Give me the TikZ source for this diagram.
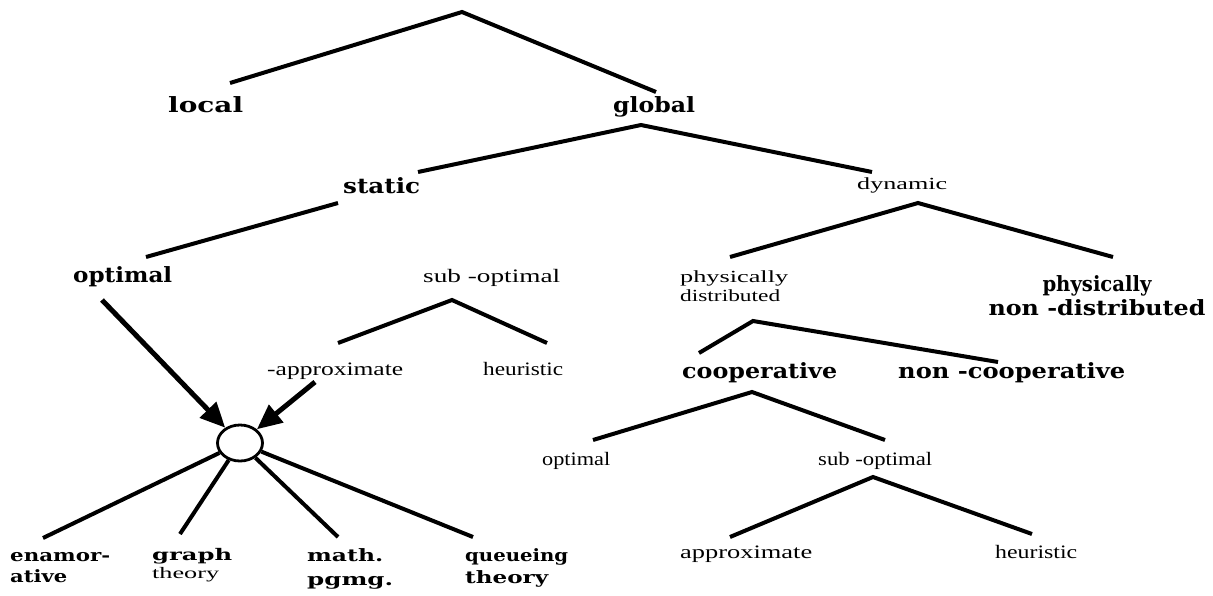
\documentclass[tikz,border=0pt]{standalone}
\usepackage{graphicx}
\usepackage{fontspec}
\setmainfont{Liberation Serif}
\newfontfamily\dvs{DejaVu Serif}
\usetikzlibrary{arrows.meta,shapes.geometric}
\newcommand\sw[2]{\resizebox{#1pt}{\height}{#2}}
\begin{document}
\begin{tikzpicture}[x=1pt,y=-1pt,
  br/.style={line width=4pt, line cap=butt},
  hd/.style={inner sep=0pt, anchor=base west, font=\dvs\bfseries\fontsize{21}{24}\selectfont},
  sm/.style={inner sep=0pt, anchor=base west, font=\dvs\bfseries\fontsize{17}{21}\selectfont},
  rg/.style={inner sep=0pt, anchor=base west, font=\fontsize{19}{22}\selectfont},
  arr/.style={line width=5pt, -{Triangle[length=25pt,width=22pt]}},
]
\useasboundingbox (0,0) rectangle (1213,595);

% labels
\node[hd] (local) at (168,112) {\sw{75}{local}};
\node[hd] (global) at (613,112) {\sw{82}{global}};
\node[hd] (static) at (343,193) {\sw{77}{static}};
\node[rg, font=\fontsize{17}{20}\selectfont] (dynamic) at (857,189) {\sw{90}{dynamic}};
\node[hd] (optA) at (73,282) {\sw{99}{optimal}};
\node[rg] (subA) at (423,282) {\sw{137}{sub -optimal}};
\node[rg] (apxA) at (267,375) {\sw{136}{-approximate}};
\node[rg] (heuA) at (483,375) {\sw{80}{heuristic}};
\node[rg, font=\fontsize{17}{19}\selectfont] (pd) at (680,282)
  {\begin{tabular}[t]{@{}l@{}}\sw{108}{physically}\\\sw{100}{distributed}\end{tabular}};
\node[hd, anchor=base] (pnd) at (1097,291)
  {\begin{tabular}[t]{@{}c@{}}\sw{109}{physically}\\\sw{217}{non -distributed}\end{tabular}};
\node[hd] (coop) at (682,378) {\sw{155}{cooperative}};
\node[hd] (ncoop) at (898,378) {\sw{227}{non -cooperative}};
\node[rg] (optB) at (542,465) {\sw{68}{optimal}};
\node[rg] (subB) at (818,465) {\sw{114}{sub -optimal}};
\node[rg] (apxB) at (680,558) {\sw{132}{approximate}};
\node[rg] (heuB) at (995,558) {\sw{82}{heuristic}};
\node[sm] (enam) at (10,561)
  {\begin{tabular}[t]{@{}l@{}}\sw{100}{enamor-}\\\sw{57}{ative}\end{tabular}};
\node[sm, font=\dvs\bfseries\fontsize{16}{18}\selectfont] (graph) at (152,560)
  {\begin{tabular}[t]{@{}l@{}}\sw{80}{graph}\\{\rmfamily\mdseries\fontsize{16}{18}\selectfont\sw{67}{theory}}\end{tabular}};
\node[sm, font=\dvs\bfseries\fontsize{17}{24}\selectfont] (math) at (307,561)
  {\begin{tabular}[t]{@{}l@{}}\sw{76}{math.}\\\sw{86}{pgmg.}\end{tabular}};
\node[sm, font=\dvs\bfseries\fontsize{17}{22}\selectfont] (queue) at (465,561)
  {\begin{tabular}[t]{@{}l@{}}\sw{103}{queueing}\\\sw{83}{theory}\end{tabular}};

% hub
\node[ellipse, draw, fill=white, line width=2.8pt, minimum width=45pt, minimum height=36pt, inner sep=0pt] (hub) at (240,443) {};

% branch points and ends
\coordinate (r) at (462,12);
\coordinate (lE) at (230,83);
\coordinate (gE) at (656,92);
\coordinate (g) at (641,125);
\coordinate (sE) at (418,172);
\coordinate (dE) at (872,172);
\coordinate (s) at (338,203);
\coordinate (oE) at (146,257);
\coordinate (so) at (452,300);
\coordinate (soL) at (338,343);
\coordinate (soR) at (547,343);
\coordinate (d) at (918,203);
\coordinate (dL) at (730,257);
\coordinate (dR) at (1113,257);
\coordinate (p) at (753,321);
\coordinate (pL) at (699,353);
\coordinate (pR) at (998,362);
\coordinate (c) at (752,392);
\coordinate (cL) at (593,440);
\coordinate (cR) at (885,440);
\coordinate (t) at (873,477);
\coordinate (tL) at (730,537);
\coordinate (tR) at (1032,534);
\coordinate (a1) at (102,300);
\coordinate (a2) at (315,382);
\coordinate (e1) at (43,538);
\coordinate (e2) at (180,534);
\coordinate (e3) at (338,537);
\coordinate (e4) at (473,537);

\draw[br] (lE) -- (r) -- (gE);
\draw[br] (sE) -- (g) -- (dE);
\draw[br] (s) -- (oE);
\draw[br] (soL) -- (so) -- (soR);
\draw[br] (dL) -- (d) -- (dR);
\draw[br] (pL) -- (p) -- (pR);
\draw[br] (cL) -- (c) -- (cR);
\draw[br] (tL) -- (t) -- (tR);

\draw[arr] (a1) -- (hub);
\draw[arr] (a2) -- (hub);
\draw[br] (hub) -- (e1);
\draw[br] (hub) -- (e2);
\draw[br] (hub) -- (e3);
\draw[br] (hub) -- (e4);
\end{tikzpicture}
\end{document}
